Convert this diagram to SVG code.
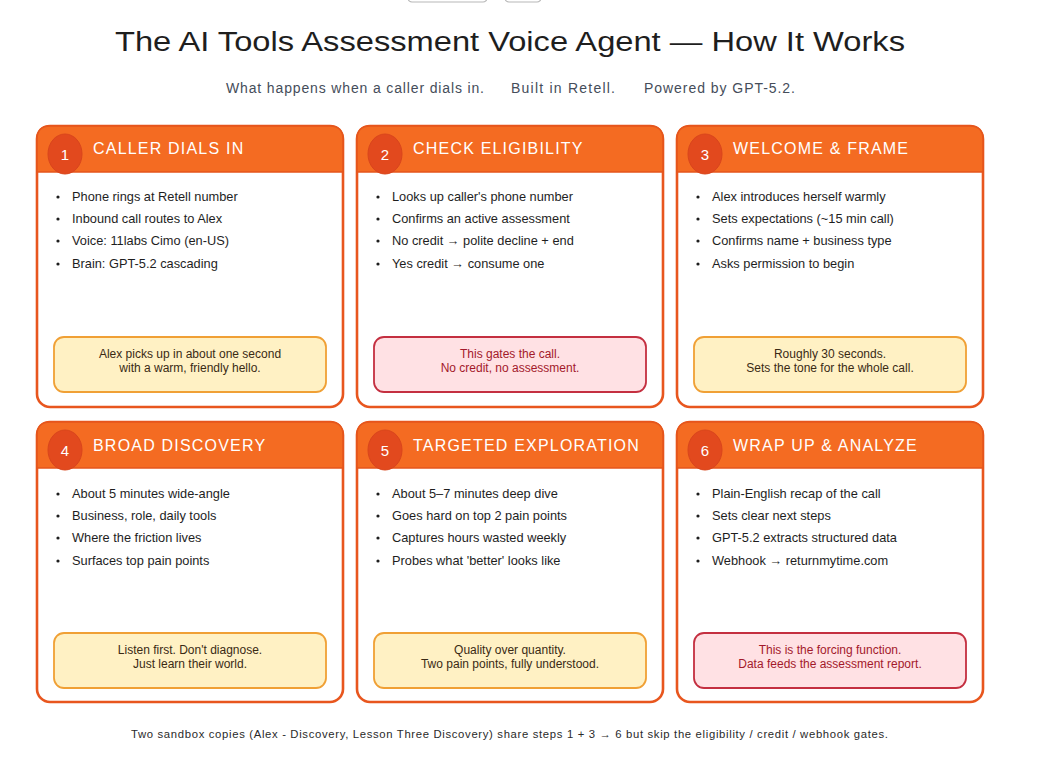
<svg xmlns="http://www.w3.org/2000/svg" width="1043" height="760" viewBox="0 0 1043 760">
<style>
  .bg{fill:#ffffff}
  .card{fill:#ffffff;stroke:#E8561E;stroke-width:2.6}
  .head{fill:#F46B22;stroke:#E5561C;stroke-width:1.6}
  .badge{fill:#E2491E;stroke:#D9451C;stroke-width:1}
  .num{font-family:"Liberation Sans",Arial,sans-serif;font-size:15px;fill:#ffffff;text-anchor:middle}
  .htxt{font-family:"Liberation Sans",Arial,sans-serif;font-size:16px;fill:#ffffff;letter-spacing:1.2px}
  .btxt{font-family:"Liberation Sans",Arial,sans-serif;font-size:12.8px;fill:#1e1e1e}
  .dot{fill:#1e1e1e}
  .noteY{fill:#FFF1C4;stroke:#F0A035;stroke-width:1.8}
  .noteR{fill:#FFE1E4;stroke:#C42F40;stroke-width:1.8}
  .ntY{font-family:"Liberation Sans",Arial,sans-serif;font-size:12px;fill:#3a2a14;text-anchor:middle}
  .ntR{font-family:"Liberation Sans",Arial,sans-serif;font-size:12px;fill:#A3192B;text-anchor:middle}
  .title{font-family:"Liberation Sans",Arial,sans-serif;font-size:27px;fill:#1e1e1e}
  .sub{font-family:"Liberation Sans",Arial,sans-serif;font-size:14px;fill:#454d5a}
  .foot{font-family:"Liberation Sans",Arial,sans-serif;font-size:11.3px;fill:#2a2a2a}
  .ui{fill:#ffffff;stroke:#b8b8b8;stroke-width:1.2}
</style>
<rect class="bg" x="0" y="0" width="1043" height="760"/>

<g id="toolbar-fragments">
  <rect class="ui" x="408" y="-20" width="79" height="22" rx="4"/>
  <rect class="ui" x="505" y="-20" width="36" height="22" rx="4"/>
</g>

<g id="title">
  <text class="title" x="115" y="51" textLength="790" lengthAdjust="spacingAndGlyphs">The AI Tools Assessment Voice Agent — How It Works</text>
  <text class="sub" x="226" y="93" textLength="258">What happens when a caller dials in.</text>
  <text class="sub" x="511" y="93" textLength="104">Built in Retell.</text>
  <text class="sub" x="644" y="93" textLength="151">Powered by GPT-5.2.</text>
</g>

<g id="connectors"></g>

<g id="step1" transform="translate(37,126)">
  <rect class="card" x="0" y="0" width="306" height="281" rx="13"/>
  <path class="head" d="M0,46 V13 Q0,0 13,0 H293 Q306,0 306,13 V46 Z"/>
  <ellipse class="badge" cx="28" cy="28" rx="17" ry="20"/>
  <text class="num" x="28" y="34">1</text>
  <text class="htxt" x="56" y="28">CALLER DIALS IN</text>
  <circle class="dot" cx="21" cy="71" r="1.6"/><text class="btxt" x="35" y="75">Phone rings at Retell number</text>
  <circle class="dot" cx="21" cy="93" r="1.6"/><text class="btxt" x="35" y="97">Inbound call routes to Alex</text>
  <circle class="dot" cx="21" cy="115" r="1.6"/><text class="btxt" x="35" y="119">Voice: 11labs Cimo (en-US)</text>
  <circle class="dot" cx="21" cy="138" r="1.6"/><text class="btxt" x="35" y="142">Brain: GPT-5.2 cascading</text>
  <rect class="noteY" x="17" y="211" width="272" height="55" rx="10"/>
  <text class="ntY" x="153" y="232">Alex picks up in about one second</text>
  <text class="ntY" x="153" y="246">with a warm, friendly hello.</text>
</g>

<g id="step2" transform="translate(357,126)">
  <rect class="card" x="0" y="0" width="306" height="281" rx="13"/>
  <path class="head" d="M0,46 V13 Q0,0 13,0 H293 Q306,0 306,13 V46 Z"/>
  <ellipse class="badge" cx="28" cy="28" rx="17" ry="20"/>
  <text class="num" x="28" y="34">2</text>
  <text class="htxt" x="56" y="28">CHECK ELIGIBILITY</text>
  <circle class="dot" cx="21" cy="71" r="1.6"/><text class="btxt" x="35" y="75">Looks up caller's phone number</text>
  <circle class="dot" cx="21" cy="93" r="1.6"/><text class="btxt" x="35" y="97">Confirms an active assessment</text>
  <circle class="dot" cx="21" cy="115" r="1.6"/><text class="btxt" x="35" y="119">No credit → polite decline + end</text>
  <circle class="dot" cx="21" cy="138" r="1.6"/><text class="btxt" x="35" y="142">Yes credit → consume one</text>
  <rect class="noteR" x="17" y="211" width="272" height="55" rx="10"/>
  <text class="ntR" x="153" y="232">This gates the call.</text>
  <text class="ntR" x="153" y="246">No credit, no assessment.</text>
</g>

<g id="step3" transform="translate(677,126)">
  <rect class="card" x="0" y="0" width="306" height="281" rx="13"/>
  <path class="head" d="M0,46 V13 Q0,0 13,0 H293 Q306,0 306,13 V46 Z"/>
  <ellipse class="badge" cx="28" cy="28" rx="17" ry="20"/>
  <text class="num" x="28" y="34">3</text>
  <text class="htxt" x="56" y="28">WELCOME &amp; FRAME</text>
  <circle class="dot" cx="21" cy="71" r="1.6"/><text class="btxt" x="35" y="75">Alex introduces herself warmly</text>
  <circle class="dot" cx="21" cy="93" r="1.6"/><text class="btxt" x="35" y="97">Sets expectations (~15 min call)</text>
  <circle class="dot" cx="21" cy="115" r="1.6"/><text class="btxt" x="35" y="119">Confirms name + business type</text>
  <circle class="dot" cx="21" cy="138" r="1.6"/><text class="btxt" x="35" y="142">Asks permission to begin</text>
  <rect class="noteY" x="17" y="211" width="272" height="55" rx="10"/>
  <text class="ntY" x="153" y="232">Roughly 30 seconds.</text>
  <text class="ntY" x="153" y="246">Sets the tone for the whole call.</text>
</g>

<g id="step4" transform="translate(37,422)">
  <rect class="card" x="0" y="0" width="306" height="280" rx="13"/>
  <path class="head" d="M0,46 V13 Q0,0 13,0 H293 Q306,0 306,13 V46 Z"/>
  <ellipse class="badge" cx="28" cy="28" rx="17" ry="20"/>
  <text class="num" x="28" y="34">4</text>
  <text class="htxt" x="56" y="29">BROAD DISCOVERY</text>
  <circle class="dot" cx="21" cy="72" r="1.6"/><text class="btxt" x="35" y="76">About 5 minutes wide-angle</text>
  <circle class="dot" cx="21" cy="94" r="1.6"/><text class="btxt" x="35" y="98">Business, role, daily tools</text>
  <circle class="dot" cx="21" cy="116" r="1.6"/><text class="btxt" x="35" y="120">Where the friction lives</text>
  <circle class="dot" cx="21" cy="139" r="1.6"/><text class="btxt" x="35" y="143">Surfaces top pain points</text>
  <rect class="noteY" x="17" y="211" width="272" height="55" rx="10"/>
  <text class="ntY" x="153" y="232">Listen first. Don't diagnose.</text>
  <text class="ntY" x="153" y="246">Just learn their world.</text>
</g>

<g id="step5" transform="translate(357,422)">
  <rect class="card" x="0" y="0" width="306" height="280" rx="13"/>
  <path class="head" d="M0,46 V13 Q0,0 13,0 H293 Q306,0 306,13 V46 Z"/>
  <ellipse class="badge" cx="28" cy="28" rx="17" ry="20"/>
  <text class="num" x="28" y="34">5</text>
  <text class="htxt" x="56" y="29">TARGETED EXPLORATION</text>
  <circle class="dot" cx="21" cy="72" r="1.6"/><text class="btxt" x="35" y="76">About 5–7 minutes deep dive</text>
  <circle class="dot" cx="21" cy="94" r="1.6"/><text class="btxt" x="35" y="98">Goes hard on top 2 pain points</text>
  <circle class="dot" cx="21" cy="116" r="1.6"/><text class="btxt" x="35" y="120">Captures hours wasted weekly</text>
  <circle class="dot" cx="21" cy="139" r="1.6"/><text class="btxt" x="35" y="143">Probes what 'better' looks like</text>
  <rect class="noteY" x="17" y="211" width="272" height="55" rx="10"/>
  <text class="ntY" x="153" y="232">Quality over quantity.</text>
  <text class="ntY" x="153" y="246">Two pain points, fully understood.</text>
</g>

<g id="step6" transform="translate(677,422)">
  <rect class="card" x="0" y="0" width="306" height="280" rx="13"/>
  <path class="head" d="M0,46 V13 Q0,0 13,0 H293 Q306,0 306,13 V46 Z"/>
  <ellipse class="badge" cx="28" cy="28" rx="17" ry="20"/>
  <text class="num" x="28" y="34">6</text>
  <text class="htxt" x="56" y="29">WRAP UP &amp; ANALYZE</text>
  <circle class="dot" cx="21" cy="72" r="1.6"/><text class="btxt" x="35" y="76">Plain-English recap of the call</text>
  <circle class="dot" cx="21" cy="94" r="1.6"/><text class="btxt" x="35" y="98">Sets clear next steps</text>
  <circle class="dot" cx="21" cy="116" r="1.6"/><text class="btxt" x="35" y="120">GPT-5.2 extracts structured data</text>
  <circle class="dot" cx="21" cy="139" r="1.6"/><text class="btxt" x="35" y="143">Webhook → returnmytime.com</text>
  <rect class="noteR" x="17" y="211" width="272" height="55" rx="10"/>
  <text class="ntR" x="153" y="232">This is the forcing function.</text>
  <text class="ntR" x="153" y="246">Data feeds the assessment report.</text>
</g>

<g id="footer">
  <text class="foot" x="131" y="738" textLength="757">Two sandbox copies (Alex - Discovery, Lesson Three Discovery) share steps 1 + 3 → 6 but skip the eligibility / credit / webhook gates.</text>
</g>
</svg>
